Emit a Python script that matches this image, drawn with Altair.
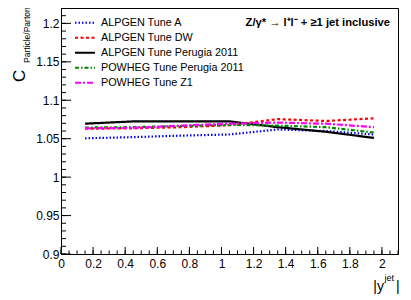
import altair as alt
import pandas as pd

x_vals = [0.15, 0.45, 0.75, 1.05, 1.35, 1.65, 1.95]
series_names = ["ALPGEN Tune A", "ALPGEN Tune DW", "ALPGEN Tune Perugia 2011",
                "POWHEG Tune Perugia 2011", "POWHEG Tune Z1"]
tune_a = [1.0505, 1.052, 1.054, 1.0555, 1.062, 1.060, 1.0555]
tune_dw = [1.063, 1.0635, 1.065, 1.0675, 1.0755, 1.073, 1.0765]
perugia = [1.0695, 1.0725, 1.0725, 1.0725, 1.065, 1.059, 1.051]
powheg_perugia = [1.0645, 1.065, 1.0665, 1.068, 1.067, 1.065, 1.058]
powheg_z1 = [1.0635, 1.064, 1.067, 1.0695, 1.071, 1.0695, 1.065]

colors = ["#0000ff", "#ff0000", "#000000", "#008800", "#ff00ff"]
dashes = [[1.5, 2], [3, 2.5], [1, 0], [4, 2, 1.5, 2], [6, 2, 2, 2]]

rows = []
for name, vals in zip(series_names, [tune_a, tune_dw, perugia, powheg_perugia, powheg_z1]):
    for xv, yv in zip(x_vals, vals):
        rows.append({"series": name, "x": xv, "y": yv})
df = pd.DataFrame(rows)

y_major = [0.9, 0.95, 1.0, 1.05, 1.1, 1.15, 1.2]
y_minor = [round(0.9 + 0.01 * i, 3) for i in range(33)]
x_major = [round(0.2 * i, 2) for i in range(11)]
x_minor = [round(0.05 * i, 2) for i in range(43)]

W, H = 337, 246
xs = alt.Scale(domain=[0, 2.1], nice=False, zero=False)
ys = alt.Scale(domain=[0.9, 1.22], nice=False, zero=False)

x_axis = alt.Axis(values=x_major, format="~g", ticks=False, grid=False,
                  labelFontSize=12, labelFont="Liberation Sans",
                  labelColor="black", labelPadding=4,
                  labelOverlap=False, labelFlush=False,
                  domainColor="black", title=None)
y_axis = alt.Axis(values=y_major, format="~g", ticks=False, grid=False,
                  labelFontSize=12, labelFont="Liberation Sans",
                  labelColor="black", labelPadding=2,
                  labelOverlap=False, labelFlush=False,
                  domainColor="black", title=None)

lines = alt.Chart(df).mark_line(strokeWidth=2.2).encode(
    x=alt.X("x:Q", scale=xs, axis=x_axis),
    y=alt.Y("y:Q", scale=ys, axis=y_axis),
    color=alt.Color("series:N", scale=alt.Scale(domain=series_names, range=colors),
                    legend=alt.Legend(orient="none", legendX=13, legendY=7.5, title=None,
                                      symbolType="stroke", symbolSize=400, symbolStrokeWidth=2,
                                      labelFontSize=10.8, labelFont="Liberation Sans",
                                      labelColor="black", clipHeight=14.5, rowPadding=0,
                                      labelOffset=5, padding=0)),
    strokeDash=alt.StrokeDash("series:N", scale=alt.Scale(domain=series_names, range=dashes),
                              legend=None),
)

ymaj_df = pd.DataFrame({"v": y_major})
ymin_df = pd.DataFrame({"v": y_minor})
xmaj_df = pd.DataFrame({"v": x_major})
xmin_df = pd.DataFrame({"v": x_minor})

ytick_major = alt.Chart(ymaj_df).mark_rule(color="black", strokeWidth=1).encode(
    y=alt.Y("v:Q", scale=ys, axis=y_axis), x=alt.value(0), x2=alt.value(10))
ytick_minor = alt.Chart(ymin_df).mark_rule(color="black", strokeWidth=1).encode(
    y=alt.Y("v:Q", scale=ys, axis=y_axis), x=alt.value(0), x2=alt.value(5))
xtick_major = alt.Chart(xmaj_df).mark_rule(color="black", strokeWidth=1).encode(
    x=alt.X("v:Q", scale=xs, axis=x_axis), y=alt.value(H), y2=alt.value(H - 7))
xtick_minor = alt.Chart(xmin_df).mark_rule(color="black", strokeWidth=1).encode(
    x=alt.X("v:Q", scale=xs, axis=x_axis), y=alt.value(H), y2=alt.value(H - 3.5))

ann_df = pd.DataFrame({"t": ["Z/\u03b3* \u2192 l\u207al\u207b + \u22651 jet inclusive"]})
annotation = alt.Chart(ann_df).mark_text(align="right", baseline="middle", fontSize=11.2,
                                         fontWeight="bold", font="Liberation Sans",
                                         color="black").encode(
    text="t:N", x=alt.value(329), y=alt.value(14.5))

yt_c = alt.Chart(pd.DataFrame({"t": ["C"]})).mark_text(
    angle=270, align="left", baseline="middle", fontSize=17, font="Liberation Sans",
    color="black").encode(text="t:N", x=alt.value(-41), y=alt.value(74))
yt_sub = alt.Chart(pd.DataFrame({"t": ["Particle/Parton"]})).mark_text(
    angle=270, align="left", baseline="middle", fontSize=8.5, font="Liberation Sans",
    color="black").encode(text="t:N", x=alt.value(-34), y=alt.value(55))

xt_y = alt.Chart(pd.DataFrame({"t": ["|y"]})).mark_text(
    align="right", baseline="alphabetic", fontSize=14, font="Liberation Sans",
    color="black").encode(text="t:N", x=alt.value(323), y=alt.value(283))
xt_jet = alt.Chart(pd.DataFrame({"t": ["jet"]})).mark_text(
    align="left", baseline="alphabetic", fontSize=9, font="Liberation Sans",
    color="black").encode(text="t:N", x=alt.value(323.5), y=alt.value(273))
xt_bar = alt.Chart(pd.DataFrame({"t": ["|"]})).mark_text(
    align="left", baseline="alphabetic", fontSize=14, font="Liberation Sans",
    color="black").encode(text="t:N", x=alt.value(335), y=alt.value(283))

chart = alt.layer(
    lines, ytick_minor, ytick_major, xtick_minor, xtick_major, annotation,
    yt_c, yt_sub, xt_y, xt_jet, xt_bar
).properties(
    width=W, height=H,
    autosize=alt.AutoSizeParams(type="none"),
    padding={"left": 53, "top": 0, "right": 5, "bottom": 46},
    background="white",
).configure_view(stroke="black", strokeWidth=1)

chart.save("out.html", embed_options={"renderer": "svg", "actions": False})
